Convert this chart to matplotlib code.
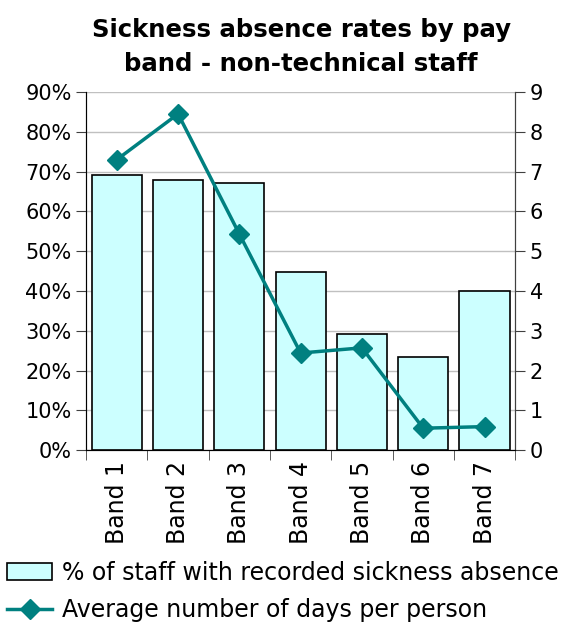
import matplotlib
matplotlib.use("Agg")
import matplotlib.pyplot as plt
import numpy as np
from matplotlib.patches import Patch
from matplotlib.lines import Line2D
from matplotlib.ticker import FuncFormatter

# Data
bands = ["Band 1", "Band 2", "Band 3", "Band 4", "Band 5", "Band 6", "Band 7"]
pct_staff = [69.2, 68.0, 67.2, 44.8, 29.1, 23.5, 40.1]
avg_days = [7.3, 8.45, 5.43, 2.44, 2.57, 0.55, 0.59]

bar_col = "#ccffff"
line_col = "#008080"
fs = 15

fig = plt.figure(figsize=(5.63, 6.26), dpi=100)
ax = fig.add_axes([0.153, 0.281, 0.762, 0.572])

x = np.arange(len(bands))
ax.bar(x, pct_staff, width=0.82, color=bar_col, edgecolor="black", linewidth=1.2, zorder=2)
ax.set_xlim(-0.5, len(bands) - 0.5)
ax.set_ylim(0, 90)
ax.set_yticks(np.arange(0, 91, 10))
ax.yaxis.set_major_formatter(FuncFormatter(lambda v, p: "%d%%" % v))
ax.grid(axis="y", color="#c0c0c0", linewidth=1, zorder=0)
ax.set_axisbelow(True)

# category labels and boundary ticks
ax.set_xticks(x)
ax.set_xticklabels(bands, rotation=90, fontsize=17)
ax.tick_params(axis="x", which="major", length=0, pad=8)
ax.set_xticks(np.arange(-0.5, len(bands), 1), minor=True)
ax.tick_params(axis="x", which="minor", length=7, direction="out", color="#404040")
ax.tick_params(axis="y", length=7, direction="out", labelsize=fs, color="#404040")

ax.spines["top"].set_visible(False)
for s in ["left", "bottom", "right"]:
    ax.spines[s].set_color("#404040")

ax2 = ax.twinx()
ax2.plot(x, avg_days, color=line_col, linewidth=2.5, marker="D", markersize=10, zorder=3)
ax2.set_ylim(0, 9)
ax2.set_yticks(np.arange(0, 10, 1))
ax2.tick_params(axis="y", length=7, direction="out", labelsize=fs, color="#404040")
ax2.spines["top"].set_visible(False)
ax2.spines["right"].set_color("#404040")

# Title
fig.text(0.535, 0.925, "Sickness absence rates by pay\nband - non-technical staff",
         ha="center", va="center", fontsize=17.6, fontweight="bold", linespacing=1.55)

# Legend
handles = [
    Patch(facecolor=bar_col, edgecolor="black", linewidth=1.2),
    Line2D([0], [0], color=line_col, linewidth=2.5, marker="D", markersize=10),
]
labels = ["% of staff with recorded sickness absence", "Average number of days per person"]
fig.legend(handles, labels, loc="lower left", bbox_to_anchor=(-0.012, -0.016),
           frameon=False, fontsize=17, handlelength=1.9, handletextpad=0.4,
           labelspacing=0.55, borderaxespad=0.2)

fig.savefig("out.png", dpi=100)
